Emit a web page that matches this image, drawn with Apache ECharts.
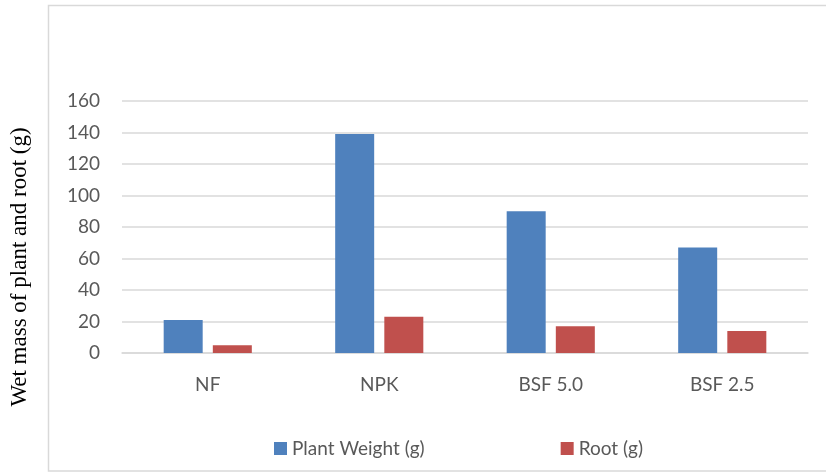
<!DOCTYPE html>
<html>
<head>
<meta charset="utf-8">
<script src="https://cdn.jsdelivr.net/npm/echarts@6/dist/echarts.min.js"></script>
<style>
  html, body { margin: 0; padding: 0; background: #fff; }
  #chart { width: 826px; height: 472px; }
</style>
</head>
<body>
<div id="chart"></div>
<script>
// Treatments and measured wet masses (g)
const categories = ['NF', 'NPK', 'BSF 5.0', 'BSF 2.5'];
const plantWeight = [21, 139, 90, 67];
const rootWeight = [5, 23, 17, 14];
const yTicks = { min: 0, max: 160, interval: 20 };
const yTitle = 'Wet mass of plant and root (g)';

const labelFont = 'Lato, "Open Sans", sans-serif';
const chart = echarts.init(document.getElementById('chart'));

chart.setOption({
  animation: false,
  graphic: [
    {
      type: 'rect',
      shape: { x: 48.5, y: 5.5, width: 800, height: 465.5 },
      style: { fill: 'none', stroke: '#d9d9d9', lineWidth: 1.5 },
      silent: true
    },
    {
      type: 'text',
      x: 20,
      y: 267,
      rotation: Math.PI / 2,
      style: {
        text: yTitle,
        font: '23px "Liberation Serif", "DejaVu Serif", serif',
        fill: '#000',
        align: 'center',
        verticalAlign: 'middle'
      },
      silent: true
    }
  ],
  grid: { left: 122, right: 18, top: 101, bottom: 119 },
  legend: {
    left: 269,
    top: 434,
    itemWidth: 13,
    itemHeight: 13,
    itemGap: 136,
    icon: 'rect',
    textStyle: { fontFamily: labelFont, fontSize: 19, color: '#595959' },
    data: ['Plant Weight (g)', 'Root (g)']
  },
  xAxis: {
    type: 'category',
    data: categories,
    axisLine: { lineStyle: { color: '#d9d9d9', width: 1.5 } },
    axisTick: { show: false },
    axisLabel: { fontFamily: labelFont, fontSize: 19, color: '#595959', margin: 22 }
  },
  yAxis: {
    type: 'value',
    min: yTicks.min,
    max: yTicks.max,
    interval: yTicks.interval,
    axisLine: { show: false },
    axisTick: { show: false },
    axisLabel: { fontFamily: labelFont, fontSize: 19, color: '#595959', margin: 22 },
    splitLine: { lineStyle: { color: '#d9d9d9', width: 1.5 } }
  },
  series: [
    {
      name: 'Plant Weight (g)',
      type: 'bar',
      data: plantWeight,
      barWidth: 39,
      barGap: '26%',
      itemStyle: { color: '#4f81bd' }
    },
    {
      name: 'Root (g)',
      type: 'bar',
      data: rootWeight,
      barWidth: 39,
      itemStyle: { color: '#c0504d' }
    }
  ]
});
</script>
</body>
</html>
